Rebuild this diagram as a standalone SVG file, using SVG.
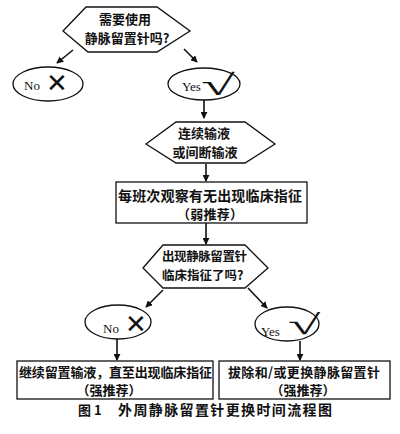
<svg xmlns="http://www.w3.org/2000/svg" width="400" height="434" viewBox="0 0 400 434">
<style>
.s{fill:none;stroke:#111;stroke-width:1.3}
.cn{font-family:"Noto Sans CJK SC","Noto Sans",sans-serif;font-size:13px;font-weight:bold;fill:#111}
.en{font-family:"Liberation Serif",serif;font-size:13px;fill:#111}
.x{font-family:"DejaVu Sans",sans-serif;font-size:26px;fill:#111}
.ck{font-family:"Liberation Serif",serif;font-size:28px;fill:#111}
.c{stroke:#111;stroke-width:1.6;fill:none}
</style>
<defs>
<marker id="ah" viewBox="0 0 8 8" refX="7" refY="4" markerWidth="7" markerHeight="7" markerUnits="userSpaceOnUse" orient="auto">
<path d="M0,0 L8,4 L0,8 Z" fill="#111"/>
</marker>
</defs>
<rect width="400" height="434" fill="#fff"/>
<g id="q1">
<polygon class="s" points="63,31 86,7 157,7 190,31 157,52 88,52"/>
<text class="cn" x="125" y="24" text-anchor="middle">需要使用</text>
<text class="cn" x="127" y="43" text-anchor="middle">静脉留置针吗?</text>
</g>
<g id="no1">
<ellipse class="s" cx="48" cy="84" rx="35" ry="17"/>
<text class="en" x="24" y="90">No</text>
<text class="x" x="57" y="92" text-anchor="middle">✕</text>
</g>
<g id="yes1">
<ellipse class="s" cx="204" cy="84" rx="36" ry="16"/>
<text class="en" x="182" y="91">Yes</text>
<text class="ck" transform="translate(201,95) scale(2.2,1.05)">√</text>
</g>
<g id="infusion">
<polygon class="s" points="146,144 176,122 245,122 275,144 245,163 176,163"/>
<text class="cn" x="204" y="138" text-anchor="middle">连续输液</text>
<text class="cn" x="205" y="157" text-anchor="middle">或间断输液</text>
</g>
<g id="observe">
<rect class="s" x="116" y="182" width="191" height="41"/>
<text class="cn" x="118" y="201" textLength="184" lengthAdjust="spacing" style="font-size:14px">每班次观察有无出现临床指征</text>
<text class="cn" x="210" y="219" text-anchor="middle" textLength="66" lengthAdjust="spacing">（弱推荐）</text>
</g>
<g id="q2">
<polygon class="s" points="143,268 163,245 245,245 268,268 245,288 163,288"/>
<text class="cn" x="162" y="261" textLength="85" lengthAdjust="spacing" style="font-size:12.5px">出现静脉留置针</text>
<text class="cn" x="162" y="280" style="font-size:12.5px">临床指征了吗?</text>
</g>
<g id="no2">
<ellipse class="s" cx="118" cy="322" rx="33" ry="17"/>
<text class="en" x="103" y="333">No</text>
<text class="x" x="136" y="333" text-anchor="middle">✕</text>
</g>
<g id="yes2">
<ellipse class="s" cx="287" cy="324" rx="32" ry="17"/>
<text class="en" x="261" y="336">Yes</text>
<text class="ck" transform="translate(288,334) scale(2.1,1)">√</text>
</g>
<g id="continue">
<rect class="s" x="17" y="361" width="196" height="38"/>
<text class="cn" x="19" y="377" textLength="193" lengthAdjust="spacing">继续留置输液，直至出现临床指征</text>
<text class="cn" x="109" y="395" text-anchor="middle">（强推荐）</text>
</g>
<g id="replace">
<rect class="s" x="219" y="361" width="171" height="38"/>
<text class="cn" x="228" y="377" textLength="152" lengthAdjust="spacing">拔除和/或更换静脉留置针</text>
<text class="cn" x="303" y="395" text-anchor="middle">（强推荐）</text>
</g>
<g id="caption">
<text class="cn" x="78" y="415" style="font-size:13px">图 1</text>
<text class="cn" x="118" y="415" textLength="214" lengthAdjust="spacing" style="font-size:14px">外周静脉留置针更换时间流程图</text>
</g>
<g id="connectors">
<line class="c" x1="73" y1="50" x2="57" y2="63" marker-end="url(#ah)"/>
<line class="c" x1="184" y1="49" x2="197" y2="62" marker-end="url(#ah)"/>
<line class="c" x1="204" y1="100" x2="204" y2="118" marker-end="url(#ah)"/>
<line class="c" x1="206" y1="164" x2="206" y2="181" marker-end="url(#ah)"/>
<line class="c" x1="206" y1="223" x2="206" y2="244" marker-end="url(#ah)"/>
<line class="c" x1="163" y1="290" x2="146" y2="307" marker-end="url(#ah)"/>
<line class="c" x1="248" y1="288" x2="267" y2="308" marker-end="url(#ah)"/>
<line class="c" x1="117" y1="339" x2="117" y2="360" marker-end="url(#ah)"/>
<line class="c" x1="300" y1="341" x2="300" y2="360" marker-end="url(#ah)"/>
</g>
</svg>
